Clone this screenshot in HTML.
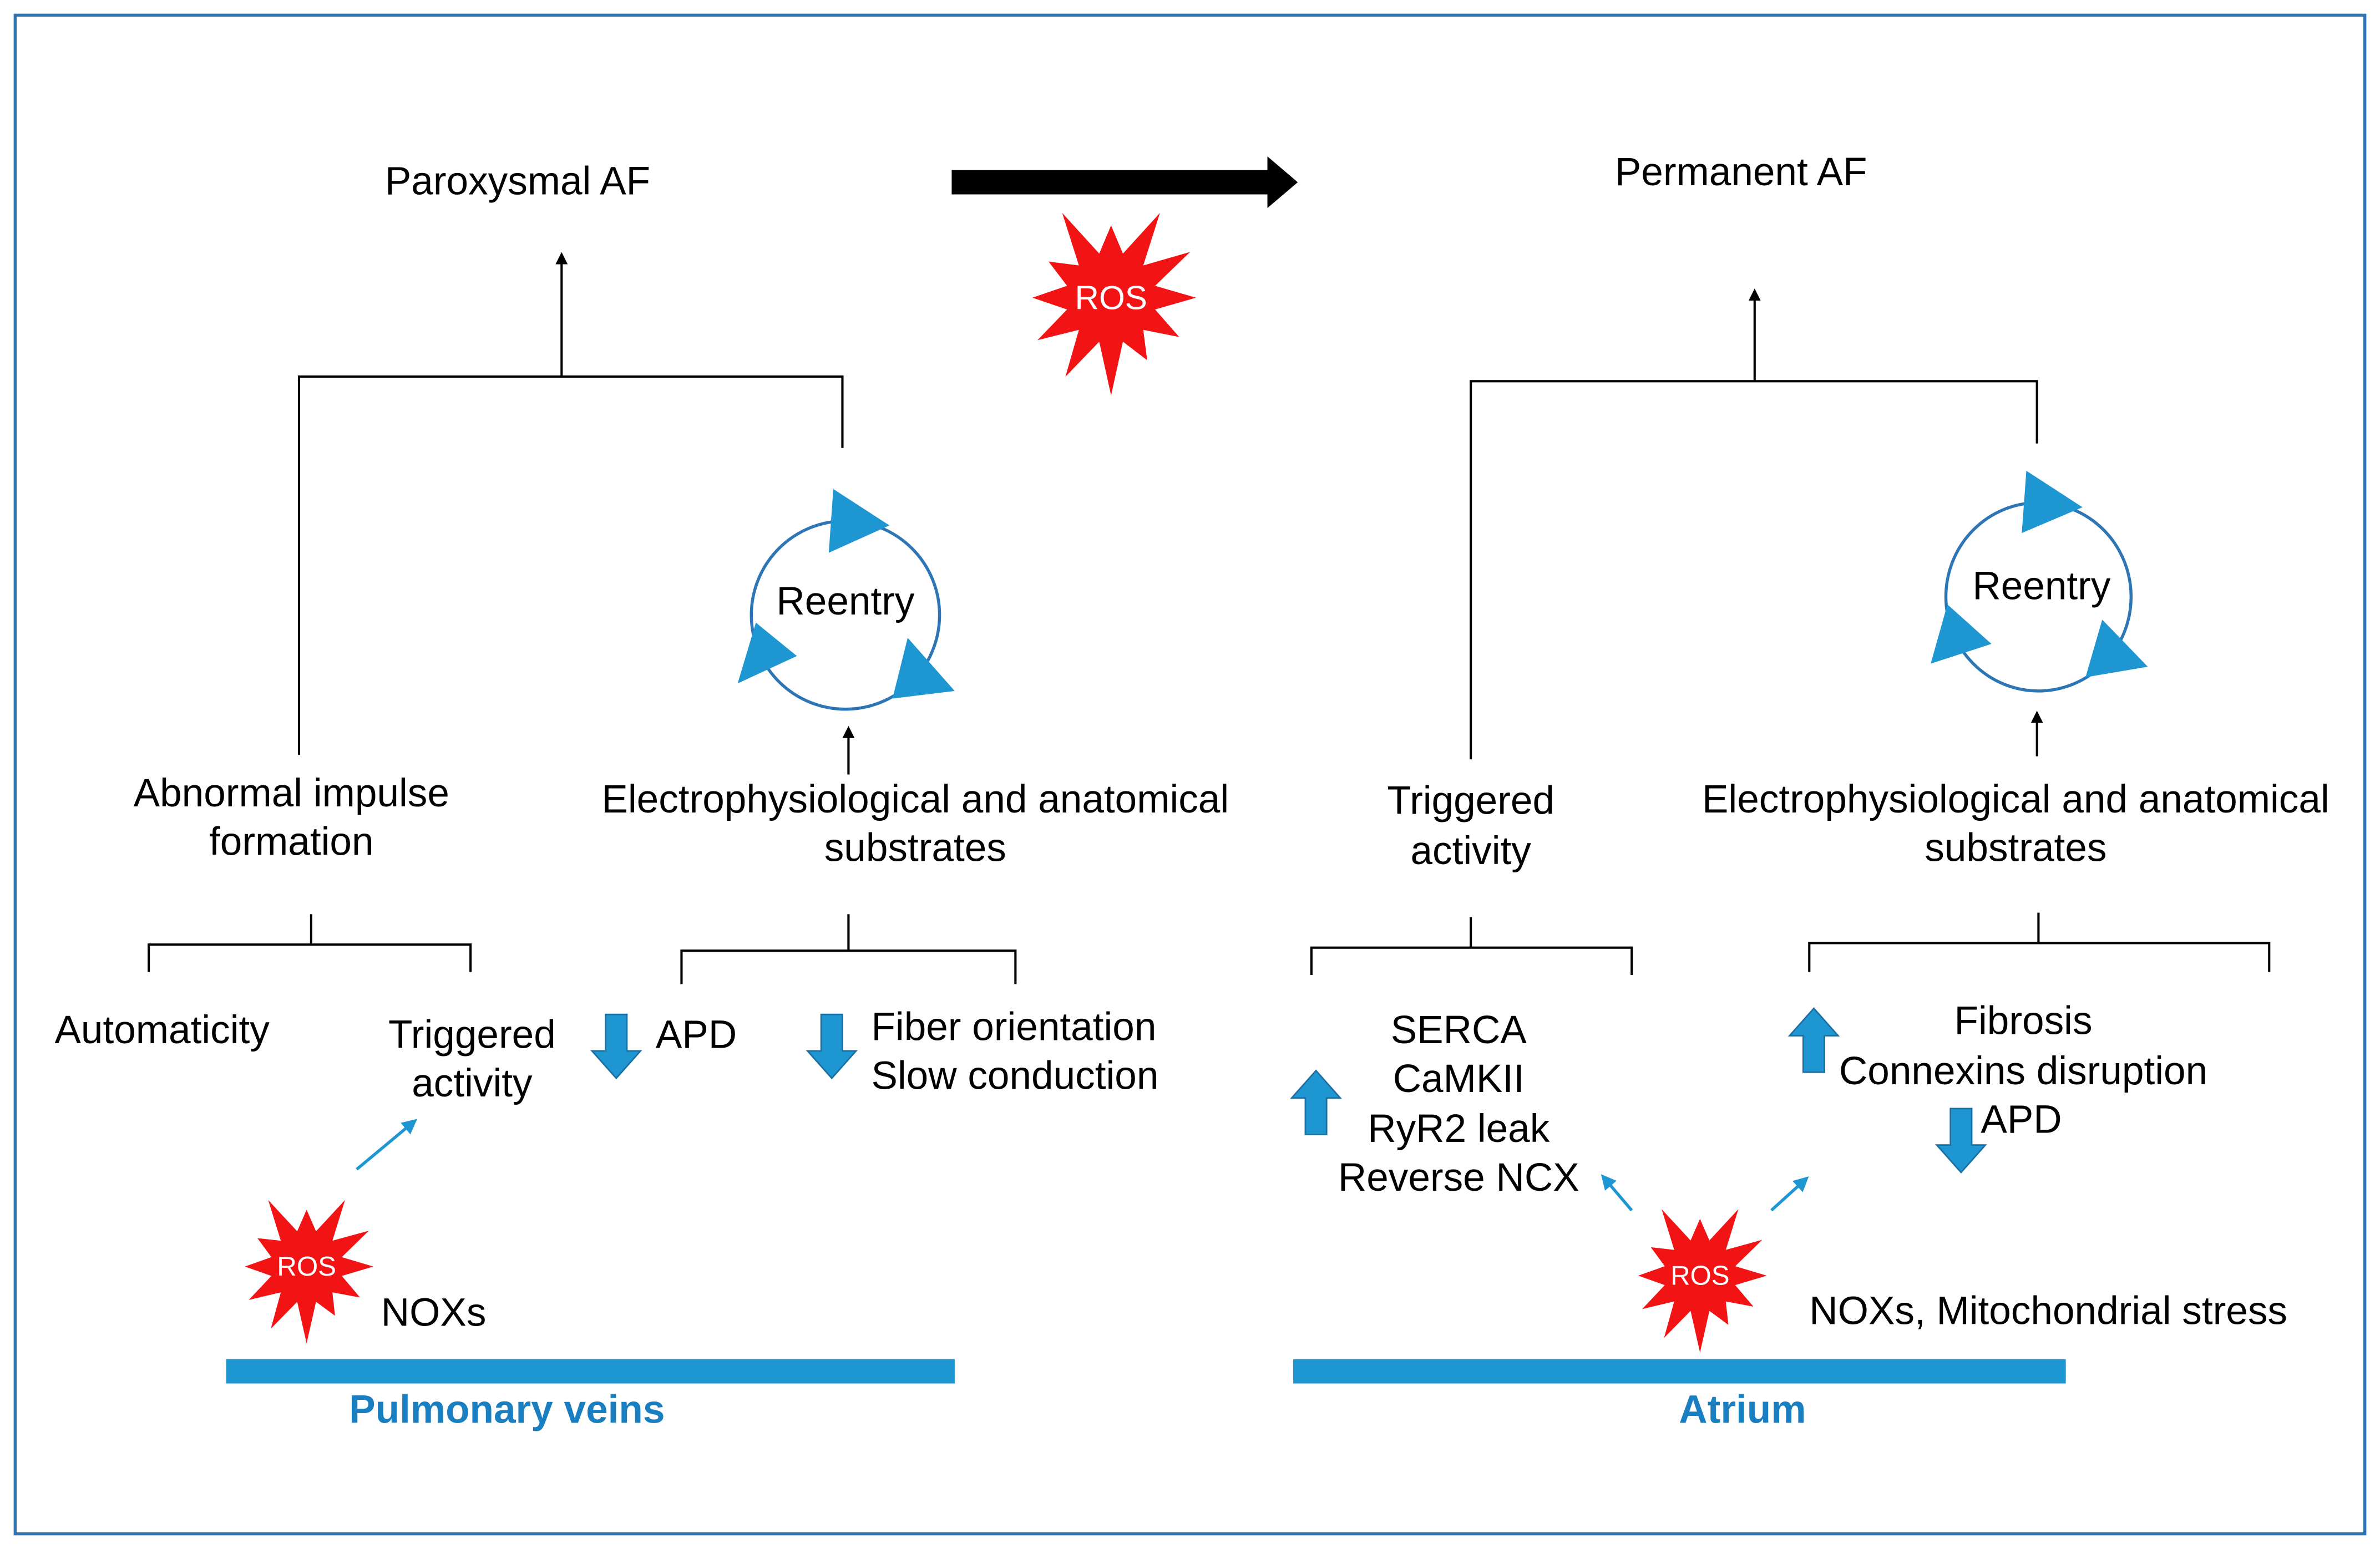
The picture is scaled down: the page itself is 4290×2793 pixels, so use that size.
<!DOCTYPE html>
<html><head><meta charset="utf-8"><style>
html,body{margin:0;padding:0;background:#fff;}
svg{display:block;}
text{font-family:"Liberation Sans",Arial,sans-serif;fill:#000;}
</style></head><body>
<svg width="4290" height="2793" viewBox="0 0 1568 1020" preserveAspectRatio="none" xmlns="http://www.w3.org/2000/svg">
<rect x="10" y="10" width="1548" height="1000" fill="#fff" stroke="#2e75b6" stroke-width="2"/>
<defs>
<marker id="ah" markerWidth="8" markerHeight="8" refX="4" refY="4" orient="auto" markerUnits="userSpaceOnUse"><path d="M0,0 L8,4 L0,8 z" fill="#000"/></marker>
<marker id="bh" markerWidth="10" markerHeight="10" refX="5" refY="5" orient="auto" markerUnits="userSpaceOnUse"><path d="M0,0 L10,5 L0,10 z" fill="#1e96d2"/></marker>
</defs>
<g font-size="26">
<text x="341" y="128" text-anchor="middle">Paroxysmal AF</text>
<text x="1147" y="122" text-anchor="middle">Permanent AF</text>
</g>
<path d="M627,112 L835,112 L835,103 L855,120 L835,137 L835,128 L627,128 z" fill="#000"/>
<g stroke="#000" stroke-width="1.5" fill="none">
<line x1="370" y1="248" x2="370" y2="170" marker-end="url(#ah)"/>
<polyline points="197,497 197,248 555,248 555,295"/>
<line x1="559" y1="510" x2="559" y2="482" marker-end="url(#ah)"/>
<line x1="1156" y1="251" x2="1156" y2="194" marker-end="url(#ah)"/>
<polyline points="969,500 969,251 1342,251 1342,292"/>
<line x1="1342" y1="498" x2="1342" y2="472" marker-end="url(#ah)"/>
<path d="M98,640 L98,622 L205,622 L205,602 M205,622 L310,622 L310,640"/>
<path d="M449,648 L449,626 L559,626 L559,602 M559,626 L669,626 L669,648"/>
<path d="M864,642 L864,624 L969,624 L969,604 M969,624 L1075,624 L1075,642"/>
<path d="M1192,640 L1192,621 L1343,621 L1343,601 M1343,621 L1495,621 L1495,640"/>
</g>
<g stroke="#2e75b6" stroke-width="2" fill="none">
<ellipse cx="557" cy="405" rx="62" ry="62"/>
<ellipse cx="1343" cy="393" rx="61" ry="62"/>
</g>
<g fill="#1e96d2">
<polygon points="549,322 586,346 546,364"/>
<polygon points="498,410 525,432 486,450"/>
<polygon points="598,420 629,455 588,460"/>
<polygon points="1335,310 1372,334 1332,351"/>
<polygon points="1283,398 1312,424 1272,437"/>
<polygon points="1385,408 1415,439 1374,446"/>
</g>
<g font-size="26">
<text x="557" y="396" text-anchor="middle" dominant-baseline="central">Reentry</text>
<text x="1345" y="386" text-anchor="middle" dominant-baseline="central">Reentry</text>
<text x="192" y="531" text-anchor="middle">Abnormal impulse</text>
<text x="192" y="563" text-anchor="middle">formation</text>
<text x="603" y="535" text-anchor="middle">Electrophysiological and anatomical</text>
<text x="603" y="567" text-anchor="middle">substrates</text>
<text x="969" y="536" text-anchor="middle">Triggered</text>
<text x="969" y="569" text-anchor="middle">activity</text>
<text x="1328" y="535" text-anchor="middle">Electrophysiological and anatomical</text>
<text x="1328" y="567" text-anchor="middle">substrates</text>
<text x="36" y="687">Automaticity</text>
<text x="311" y="690" text-anchor="middle">Triggered</text>
<text x="311" y="722" text-anchor="middle">activity</text>
<text x="432" y="690">APD</text>
<text x="574" y="685">Fiber orientation</text>
<text x="574" y="717">Slow conduction</text>
<text x="251" y="873">NOXs</text>
<text x="961" y="687" text-anchor="middle">SERCA</text>
<text x="961" y="719" text-anchor="middle">CaMKII</text>
<text x="961" y="752" text-anchor="middle">RyR2 leak</text>
<text x="961" y="784" text-anchor="middle">Reverse NCX</text>
<text x="1333" y="681" text-anchor="middle">Fibrosis</text>
<text x="1333" y="714" text-anchor="middle">Connexins disruption</text>
<text x="1305" y="746">APD</text>
<text x="1192" y="872">NOXs, Mitochondrial stress</text>
</g>
<g fill="#1e96d2" stroke="#1b6fa0" stroke-width="1">
<path d="M399,668 L413,668 L413,692 L422,692 L406,710 L390,692 L399,692 z"/>
<path d="M541,668 L555,668 L555,692 L564,692 L548,710 L532,692 L541,692 z"/>
<path d="M860,747 L874,747 L874,723 L883,723 L867,705 L851,723 L860,723 z"/>
<path d="M1188,706 L1202,706 L1202,682 L1211,682 L1195,664 L1179,682 L1188,682 z"/>
<path d="M1285,730 L1299,730 L1299,754 L1308,754 L1292,772 L1276,754 L1285,754 z"/>
</g>
<g stroke="#1e96d2" stroke-width="2">
<line x1="235" y1="770" x2="271" y2="740" marker-end="url(#bh)"/>
<line x1="1075" y1="797" x2="1058" y2="777" marker-end="url(#bh)"/>
<line x1="1167" y1="797" x2="1188" y2="778" marker-end="url(#bh)"/>
</g>
<g id="stars"></g>
<rect x="149" y="895" width="480" height="16" fill="#1e96d2"/>
<rect x="852" y="895" width="509" height="16" fill="#1e96d2"/>
<g font-size="26" font-weight="bold">
<text x="334" y="937" text-anchor="middle" style="fill:#1a7fc1">Pulmonary veins</text>
<text x="1148" y="937" text-anchor="middle" style="fill:#1a7fc1">Atrium</text>
</g>
<script>
(function(){
 var g=document.getElementById('stars');
 function star(cx,cy,ro,ri,n,fs){
  var p=[];for(var i=0;i<2*n;i++){var a=Math.PI*i/n-Math.PI/2;var r=i%2?ri:ro*(0.85+0.3*((i*7)%5)/4);p.push((cx+r*Math.cos(a)).toFixed(1)+','+(cy+r*Math.sin(a)).toFixed(1));}
  var pg=document.createElementNS('http://www.w3.org/2000/svg','polygon');
  pg.setAttribute('points',p.join(' '));pg.setAttribute('fill','#f21414');g.appendChild(pg);
  var t=document.createElementNS('http://www.w3.org/2000/svg','text');
  t.setAttribute('x',cx);t.setAttribute('y',cy);t.setAttribute('text-anchor','middle');t.setAttribute('dominant-baseline','central');
  t.setAttribute('font-size',fs);t.setAttribute('style','fill:#fff');t.textContent='ROS';g.appendChild(t);
 }
 star(732,196,56,30,12,22);
 star(202,834,44,24,12,18);
 star(1120,840,44,24,12,18);
})();
</script>
</svg>
</body></html>
